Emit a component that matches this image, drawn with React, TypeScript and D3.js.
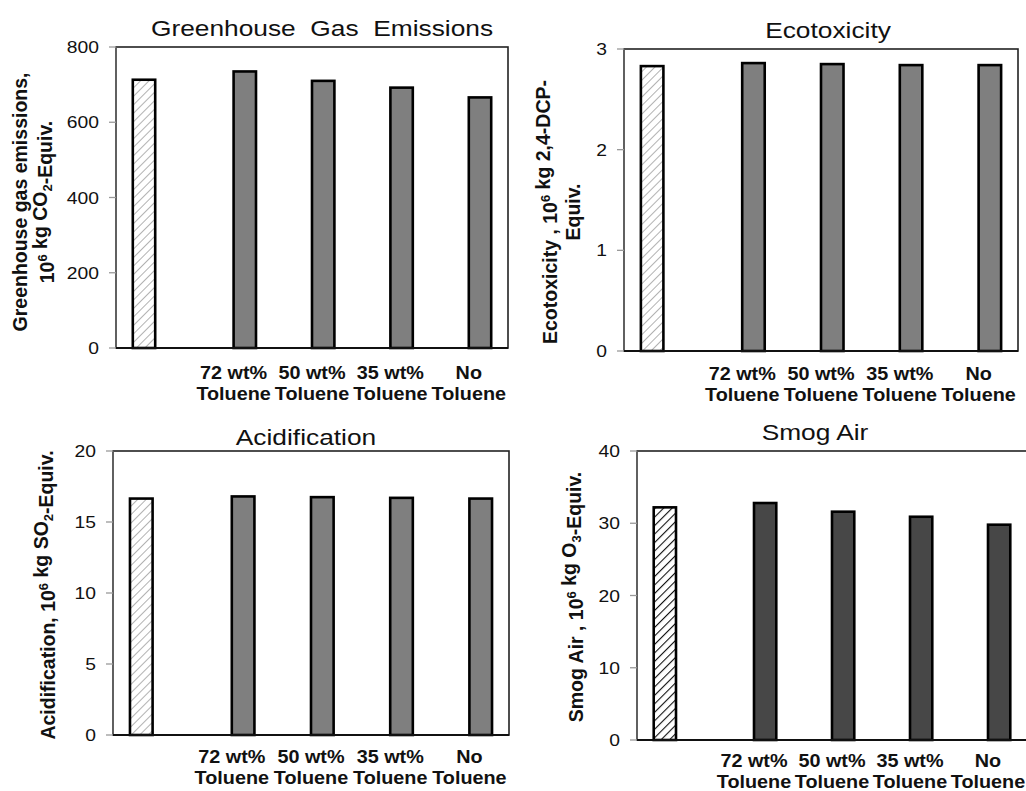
import React from 'react';
import * as d3 from 'd3';

// categories along the x axis (first one is the unlabeled base case)
const categories = ['base', '72', '50', '35', 'none'];
const categoryLines = [[''], ['72 wt%', 'Toluene'], ['50 wt%', 'Toluene'], ['35 wt%', 'Toluene'], ['No', 'Toluene']];
const series = ['Base case', 'Toluene'];

// values, 10^6 kg equivalents
const ghgValues = [713, 735, 710, 692, 666];
const ecoValues = [2.83, 2.86, 2.85, 2.84, 2.84];
const acidValues = [16.65, 16.8, 16.75, 16.7, 16.65];
const smogValues = [32.2, 32.8, 31.6, 30.9, 29.8];

const ghgTicks = [0, 200, 400, 600, 800];
const ecoTicks = [0, 1, 2, 3];
const acidTicks = [0, 5, 10, 15, 20];
const smogTicks = [0, 10, 20, 30, 40];

type Seg = { t: string; s?: 'sup' | 'sub' };

const FONT = "'Liberation Sans', Arial, sans-serif";
const SX = 1.17; // the picture is stretched a bit sideways

const panels = [
  {
    id: 'ghg', title: 'Greenhouse  Gas  Emissions', values: ghgValues, ticks: ghgTicks,
    box: { l: 116, r: 508, t: 47, b: 348 }, titleX: 322, titleY: 36, dark: false, catY: 31,
    yLabel: [
      { x: 27, segs: [{ t: 'Greenhouse gas emissions,' }] as Seg[] },
      { x: 54, segs: [{ t: '10' }, { t: '6', s: 'sup' }, { t: ' kg CO' }, { t: '2', s: 'sub' }, { t: '-Equiv.' }] as Seg[] },
    ], labelY: 202,
  },
  {
    id: 'eco', title: 'Ecotoxicity', values: ecoValues, ticks: ecoTicks,
    box: { l: 624, r: 1018, t: 49, b: 351 }, titleX: 828, titleY: 38, dark: false, catY: 29,
    yLabel: [
      { x: 557, segs: [{ t: 'Ecotoxicity , 10' }, { t: '6', s: 'sup' }, { t: ' kg 2,4-DCP-' }] as Seg[] },
      { x: 580, segs: [{ t: 'Equiv.' }] as Seg[] },
    ], labelY: 212,
  },
  {
    id: 'acid', title: 'Acidification', values: acidValues, ticks: acidTicks,
    box: { l: 113, r: 509, t: 451, b: 735 }, titleX: 306, titleY: 445, dark: false, catY: 28,
    yLabel: [
      { x: 55, segs: [{ t: 'Acidification, 10' }, { t: '6', s: 'sup' }, { t: ' kg SO' }, { t: '2', s: 'sub' }, { t: '-Equiv.' }] as Seg[] },
    ], labelY: 595,
  },
  {
    id: 'smog', title: 'Smog Air', values: smogValues, ticks: smogTicks,
    box: { l: 637, r: 1027, t: 451, b: 740 }, titleX: 815, titleY: 440, dark: true, catY: 27,
    yLabel: [
      { x: 583, segs: [{ t: 'Smog Air , 10' }, { t: '6', s: 'sup' }, { t: ' kg O' }, { t: '3', s: 'sub' }, { t: '-Equiv.' }] as Seg[] },
    ], labelY: 597,
  },
];

function RotLabel({ x, y, segs, size }: { x: number; y: number; segs: Seg[]; size: number }) {
  const small = Math.round(size * 0.65);
  const parts: React.ReactNode[] = [];
  segs.forEach((sg, i) => {
    if (sg.s === 'sup') {
      parts.push(<tspan key={i + 'a'} dy={-7} fontSize={small}>{sg.t}</tspan>);
      parts.push(<tspan key={i + 'b'} dy={7} fontSize={size}>{''}</tspan>);
    } else if (sg.s === 'sub') {
      parts.push(<tspan key={i + 'a'} dy={5} fontSize={small}>{sg.t}</tspan>);
      parts.push(<tspan key={i + 'b'} dy={-5} fontSize={size}>{''}</tspan>);
    } else {
      parts.push(<tspan key={i}>{sg.t}</tspan>);
    }
  });
  return (
    <text transform={`translate(${x},${y}) rotate(-90) scale(1,1.05)`} textAnchor="middle" fontWeight="bold"
      fontSize={size} fontFamily={FONT} fill="#111">
      {parts}
    </text>
  );
}

function Panel({ p }: { p: typeof panels[number] }) {
  const { box } = p;
  const max = p.ticks[p.ticks.length - 1];
  const x = d3.scaleBand().domain(categories).range([box.l, box.r]).padding(0);
  const inner = d3.scaleBand().domain(series).range([0, x.bandwidth()]).paddingInner(0).paddingOuter(0.75);
  const y = d3.scaleLinear().domain([0, max]).range([box.b, box.t]);
  const patId = 'hatch-' + p.id;
  const fill = p.dark ? '#474747' : '#7f7f7f';

  return (
    <g>
      <defs>
        <pattern id={patId} patternUnits="userSpaceOnUse" width={6} height={6}
          patternTransform="rotate(45)">
          <rect width={6} height={6} fill="#fff" />
          <line x1={0} y1={0} x2={0} y2={6} stroke={p.dark ? '#111' : '#888'} strokeWidth={p.dark ? 2.2 : 1.3} />
        </pattern>
      </defs>
      {/* title */}
      <text transform={`translate(${p.titleX},${p.titleY}) scale(${SX},1)`} textAnchor="middle"
        fontSize={22.5} fontFamily={FONT} fill="#111" style={{ whiteSpace: 'pre' }}>{p.title}</text>

      {/* plot frame */}
      <rect x={box.l} y={box.t} width={box.r - box.l} height={box.b - box.t} fill="none" stroke="#222" strokeWidth={1.6} />
      <line x1={box.l} x2={box.l} y1={box.t} y2={box.b} stroke="#666" strokeWidth={1.6} />

      {/* y ticks */}
      {p.ticks.map((t) => (
        <g key={t}>
          <line x1={box.l - 7} x2={box.l} y1={y(t)} y2={y(t)} stroke="#999" strokeWidth={1.3} />
          <text transform={`translate(${box.l - 17},${y(t) + 6}) scale(${SX},1)`} textAnchor="end"
            fontSize={16.5} fontFamily={FONT} fill="#111">{t}</text>
        </g>
      ))}

      {/* bars */}
      {p.values.map((v, i) => {
        const s = i === 0 ? series[0] : series[1];
        const bx = (x(categories[i]) as number) + (inner(s) as number);
        return (
          <rect key={i} x={bx} y={y(v)} width={inner.bandwidth()} height={y(0) - y(v)}
            fill={i === 0 ? `url(#${patId})` : fill} stroke="#000" strokeWidth={2.6} />
        );
      })}
      <line x1={box.l} x2={box.r} y1={box.b} y2={box.b} stroke="#111" strokeWidth={1.8} />

      {/* category labels */}
      {categories.map((c, i) => (
        <g key={c}>
          {categoryLines[i].map((ln, j) => (
            <text key={j}
              transform={`translate(${(x(c) as number) + x.bandwidth() / 2},${box.b + p.catY + j * 21}) scale(1.1,1)`}
              textAnchor="middle" fontWeight="bold" fontSize={18} fontFamily={FONT} fill="#111">{ln}</text>
          ))}
        </g>
      ))}

      {/* y axis title */}
      {p.yLabel.map((l, i) => (
        <RotLabel key={i} x={l.x} y={p.labelY} segs={l.segs} size={19.5} />
      ))}
    </g>
  );
}

export default function App() {
  return (
    <svg width={1026} height={791} style={{ position: 'absolute', left: 0, top: 0, background: '#fff' }}>
      <rect width={1026} height={791} fill="#fff" />
      {panels.map((p) => <Panel key={p.id} p={p} />)}
    </svg>
  );
}
